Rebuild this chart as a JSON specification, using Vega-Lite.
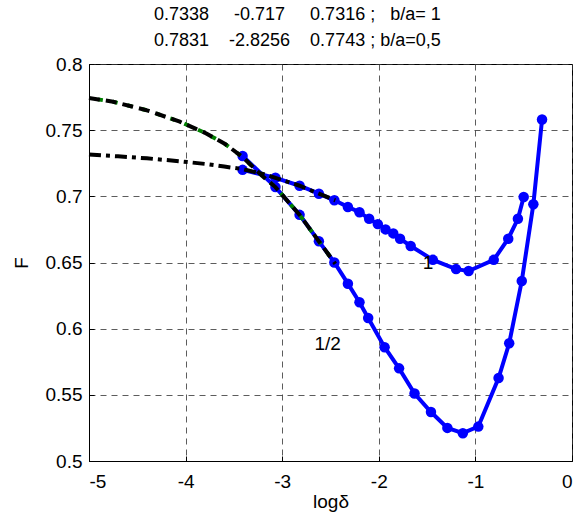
{
  "$schema": "https://vega.github.io/schema/vega-lite/v6.json",
  "width": 483,
  "height": 397,
  "autosize": {"type": "none"},
  "padding": {"left": 89, "top": 64, "right": 10, "bottom": 58},
  "background": "white",
  "title": {
    "text": ["0.7338\u00a0\u00a0\u00a0\u00a0\u00a0-0.717\u00a0\u00a0\u00a0\u00a0\u00a00.7316\u00a0;\u00a0\u00a0\u00a0b/a=\u00a01", "0.7831\u00a0\u00a0\u00a0\u00a0-2.8256\u00a0\u00a0\u00a0\u00a00.7743\u00a0;\u00a0b/a=0,5"],
    "font": "Liberation Sans",
    "fontSize": 18,
    "fontWeight": "normal",
    "color": "black",
    "anchor": "start",
    "frame": "group",
    "dx": 65,
    "lineHeight": 26,
    "offset": 5
  },
  "config": {
    "view": {"stroke": "black", "strokeWidth": 1},
    "axis": {
      "labelFont": "Liberation Sans",
      "labelFontSize": 19,
      "labelColor": "black",
      "titleFont": "Liberation Sans",
      "titleFontSize": 19,
      "titleFontWeight": "normal",
      "titleColor": "black",
      "domainColor": "black",
      "tickColor": "black",
      "tickSize": -5,
      "gridColor": "#333333",
      "gridDash": [6, 5],
      "gridOpacity": 0.8,
      "gridWidth": 1
    }
  },
  "datasets": {
    "pts": [
      {"series": "1", "x": -3.41, "y": 0.720},
      {"series": "1", "x": -3.07, "y": 0.714},
      {"series": "1", "x": -2.82, "y": 0.708},
      {"series": "1", "x": -2.62, "y": 0.702},
      {"series": "1", "x": -2.46, "y": 0.697},
      {"series": "1", "x": -2.32, "y": 0.692},
      {"series": "1", "x": -2.20, "y": 0.688},
      {"series": "1", "x": -2.10, "y": 0.683},
      {"series": "1", "x": -2.01, "y": 0.679},
      {"series": "1", "x": -1.93, "y": 0.675},
      {"series": "1", "x": -1.85, "y": 0.672},
      {"series": "1", "x": -1.78, "y": 0.668},
      {"series": "1", "x": -1.67, "y": 0.6625},
      {"series": "1", "x": -1.44, "y": 0.652},
      {"series": "1", "x": -1.20, "y": 0.645},
      {"series": "1", "x": -1.07, "y": 0.6436},
      {"series": "1", "x": -0.81, "y": 0.652},
      {"series": "1", "x": -0.66, "y": 0.668},
      {"series": "1", "x": -0.56, "y": 0.683},
      {"series": "1", "x": -0.50, "y": 0.6995},
      {"series": "0.5", "x": -3.41, "y": 0.7305},
      {"series": "0.5", "x": -3.07, "y": 0.707},
      {"series": "0.5", "x": -2.82, "y": 0.686},
      {"series": "0.5", "x": -2.62, "y": 0.666},
      {"series": "0.5", "x": -2.46, "y": 0.650},
      {"series": "0.5", "x": -2.32, "y": 0.634},
      {"series": "0.5", "x": -2.20, "y": 0.620},
      {"series": "0.5", "x": -2.11, "y": 0.608},
      {"series": "0.5", "x": -1.94, "y": 0.586},
      {"series": "0.5", "x": -1.79, "y": 0.570},
      {"series": "0.5", "x": -1.63, "y": 0.551},
      {"series": "0.5", "x": -1.46, "y": 0.537},
      {"series": "0.5", "x": -1.29, "y": 0.525},
      {"series": "0.5", "x": -1.13, "y": 0.521},
      {"series": "0.5", "x": -0.97, "y": 0.526},
      {"series": "0.5", "x": -0.76, "y": 0.5627},
      {"series": "0.5", "x": -0.65, "y": 0.589},
      {"series": "0.5", "x": -0.52, "y": 0.636},
      {"series": "0.5", "x": -0.40, "y": 0.694},
      {"series": "0.5", "x": -0.31, "y": 0.758}
    ],
    "fit1": [
      {"x": -5, "y": 0.7316},
      {"x": -4.7, "y": 0.7302},
      {"x": -4.4, "y": 0.7287},
      {"x": -4.06, "y": 0.7265},
      {"x": -3.8, "y": 0.7245},
      {"x": -3.6, "y": 0.7225},
      {"x": -3.41, "y": 0.7206},
      {"x": -3.2, "y": 0.717},
      {"x": -3.07, "y": 0.714},
      {"x": -2.82, "y": 0.708},
      {"x": -2.62, "y": 0.702},
      {"x": -2.45, "y": 0.697}
    ],
    "fit05": [
      {"x": -5, "y": 0.7743},
      {"x": -4.75, "y": 0.7715},
      {"x": -4.4, "y": 0.765},
      {"x": -4.06, "y": 0.7564},
      {"x": -3.8, "y": 0.748},
      {"x": -3.6, "y": 0.740},
      {"x": -3.41, "y": 0.7297},
      {"x": -3.2, "y": 0.715},
      {"x": -3.07, "y": 0.707},
      {"x": -2.82, "y": 0.686},
      {"x": -2.62, "y": 0.666},
      {"x": -2.45, "y": 0.649}
    ],
    "labels": [
      {"x": -1.49, "y": 0.6496, "t": "1"},
      {"x": -2.53, "y": 0.5884, "t": "1/2"}
    ]
  },
  "encoding": {
    "x": {
      "field": "x", "type": "quantitative",
      "scale": {"domain": [-5, 0], "nice": false, "zero": false},
      "axis": {"values": [-5, -4, -3, -2, -1, 0], "labelExpr": "'' + datum.value", "title": "logδ", "titlePadding": 1, "labelPadding": 16, "grid": true}
    },
    "y": {
      "field": "y", "type": "quantitative",
      "scale": {"domain": [0.5, 0.8], "nice": false, "zero": false},
      "axis": {"values": [0.5, 0.55, 0.6, 0.65, 0.7, 0.75, 0.8], "labelExpr": "'' + datum.value", "title": "F", "titlePadding": 14, "labelPadding": 12, "grid": true}
    }
  },
  "layer": [
    {
      "data": {"name": "pts"},
      "mark": {"type": "line", "color": "#0000ff", "strokeWidth": 4, "point": {"filled": true, "size": 110, "color": "#0000ff", "opacity": 1}},
      "encoding": {"detail": {"field": "series"}}
    },
    {
      "data": {"name": "fit05"},
      "mark": {"type": "line", "color": "#008000", "strokeWidth": 4, "strokeDash": [5, 10], "strokeDashOffset": 6}
    },
    {
      "data": {"name": "fit05"},
      "mark": {"type": "line", "color": "black", "strokeWidth": 4, "strokeDash": [11, 6]}
    },
    {
      "data": {"name": "fit1"},
      "mark": {"type": "line", "color": "black", "strokeWidth": 4, "strokeDash": [12, 5, 4, 5]}
    },
    {
      "data": {"name": "labels"},
      "mark": {"type": "text", "font": "Liberation Sans", "fontSize": 19, "color": "black", "align": "center", "baseline": "middle"},
      "encoding": {"text": {"field": "t"}}
    }
  ]
}
